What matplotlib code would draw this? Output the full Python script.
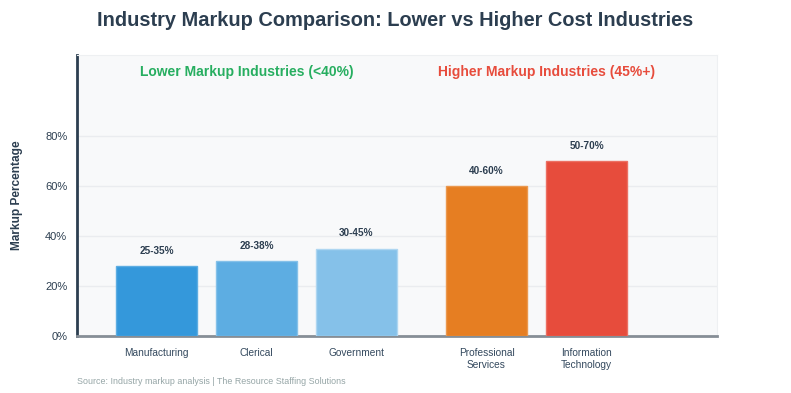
import matplotlib.pyplot as plt

plt.rcParams['font.family'] = ['Liberation Sans', 'DejaVu Sans']

# data
industries = ['Manufacturing', 'Clerical', 'Government',
              'Professional\nServices', 'Information\nTechnology']
markup = [28, 30, 35, 60, 70]
ranges = ['25-35%', '28-38%', '30-45%', '40-60%', '50-70%']
positions = [0, 1, 2, 3.3, 4.3]
colors = ['#3498db', '#5dade2', '#85c1e9', '#e67e22', '#e74c3c']
edges = ['#5dade2', '#85c1e9', '#aed6f1', '#eb984e', '#ec7063']

fig = plt.figure(figsize=(7.91, 3.93), dpi=100)
ax = fig.add_axes([77 / 791, 57 / 393, 640 / 791, 281 / 393])
ax.set_facecolor('#f8f9fa')

bars = ax.bar(positions, markup, width=0.81, color=colors,
              edgecolor=edges, linewidth=1, zorder=3)
for b, lab in zip(bars, ranges):
    ax.text(b.get_x() + b.get_width() / 2, b.get_height() + 4, lab,
            ha='center', va='bottom', fontsize=7.2, fontweight='bold',
            color='#2c3e50')

ax.set_xlim(-0.795, 5.605)
ax.set_ylim(0, 112.4)
ax.set_xticks(positions)
ax.set_xticklabels(industries, fontsize=7.3, color='#34495e')
ax.set_yticks([0, 20, 40, 60, 80])
ax.set_yticklabels(['0%', '20%', '40%', '60%', '80%'], fontsize=8, color='#2c3e50')
ax.tick_params(length=0)
ax.tick_params(axis='y', pad=7)
ax.tick_params(axis='x', pad=9)
ax.grid(axis='y', color='#eaecef', linewidth=1, zorder=0)

ax.spines['left'].set_color('#2c3e50')
ax.spines['left'].set_linewidth(2)
ax.spines['bottom'].set_color('#868e96')
ax.spines['bottom'].set_linewidth(2)
ax.spines['top'].set_color('#eef0f2')
ax.spines['right'].set_color('#eef0f2')

ax.set_ylabel('Markup Percentage', fontsize=8.6, fontweight='bold',
              color='#2c3e50')
ax.yaxis.set_label_coords(-0.084, 0.5)

ax.text(0.266, 0.94, 'Lower Markup Industries (<40%)', transform=ax.transAxes,
        ha='center', va='center', fontsize=10, fontweight='bold', color='#27ae60')
ax.text(0.734, 0.94, 'Higher Markup Industries (45%+)', transform=ax.transAxes,
        ha='center', va='center', fontsize=10, fontweight='bold', color='#e74c3c')

fig.text(0.5, 1 - 20 / 393, 'Industry Markup Comparison: Lower vs Higher Cost Industries',
         ha='center', va='center', fontsize=14.4, fontweight='bold', color='#2c3e50')
fig.text(77 / 791, 1 - 382 / 393,
         'Source: Industry markup analysis | The Resource Staffing Solutions',
         ha='left', va='center', fontsize=6.4, color='#95a5a6')

fig.savefig('out.png', dpi=100)
